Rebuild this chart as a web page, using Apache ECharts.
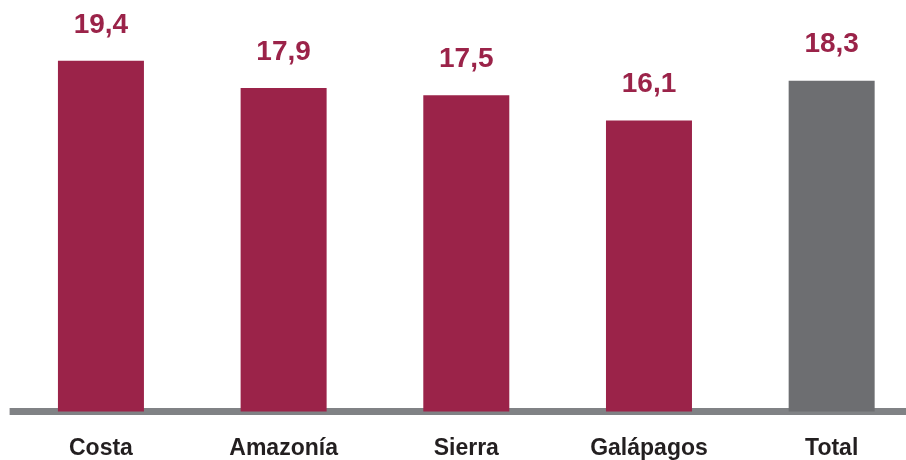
<!DOCTYPE html>
<html>
<head>
<meta charset="utf-8">
<script src="https://cdn.jsdelivr.net/npm/echarts@6/dist/echarts.min.js"></script>
<style>html,body{margin:0;padding:0;background:#fff;overflow:hidden;width:906px;height:460px}#c{width:923px;height:460px}</style>
</head>
<body>
<div id="c"></div>
<script>
var categories = ['Costa', 'Amazonía', 'Sierra', 'Galápagos', 'Total'];
var values = [19.4, 17.9, 17.5, 16.1, 18.3];
var barColors = ['#9B2349', '#9B2349', '#9B2349', '#9B2349', '#6D6E71'];

var chart = echarts.init(document.getElementById('c'), null, {renderer: 'canvas'});
chart.setOption({
  animation: false,
  grid: {left: 9.6, right: 0, top: 50, bottom: 48},
  xAxis: {
    type: 'category',
    data: categories,
    offset: 3.5,
    axisLine: {lineStyle: {color: '#808285', width: 7, cap: 'butt'}},
    axisTick: {show: false},
    axisLabel: {
      color: '#231F20', fontSize: 23, fontWeight: 'bold',
      fontFamily: 'Liberation Sans', margin: 22
    }
  },
  yAxis: {
    type: 'value', min: 0, max: 20,
    show: false, splitLine: {show: false}
  },
  series: [{
    type: 'bar',
    barWidth: 86,
    data: values.map(function (v, i) { return {value: v, itemStyle: {color: barColors[i]}}; }),
    label: {
      show: true, position: 'top', distance: 22,
      color: '#9B2349', fontSize: 28, fontWeight: 'bold',
      fontFamily: 'Liberation Sans',
      formatter: function (p) { return p.value.toFixed(1).replace('.', ','); }
    }
  }]
});
</script>
</body>
</html>
